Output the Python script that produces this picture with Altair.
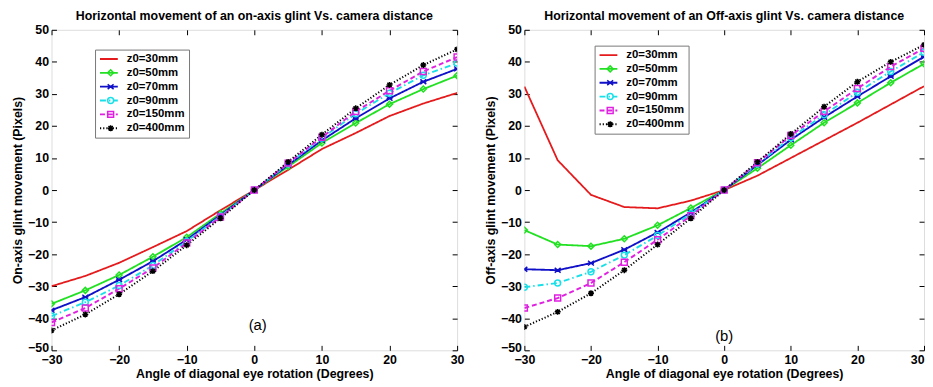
import altair as alt
import pandas as pd

angles = [-30, -25, -20, -15, -10, -5, 0, 5, 10, 15, 20, 25, 30]
series_names = ["z0=30mm", "z0=50mm", "z0=70mm", "z0=90mm", "z0=150mm", "z0=400mm"]

# Panel (a): on-axis glint
on_z30 = [-30, -26.8, -22.7, -17.8, -12.8, -6.3, 0, 6.3, 12.8, 17.8, 23.1, 27, 30.3]
on_z50 = [-35.5, -31.3, -26.5, -20.8, -14.7, -7.3, 0, 7.3, 14.7, 20.9, 26.8, 31.5, 35.7]
on_z70 = [-37.5, -33.4, -28, -22.2, -15.5, -7.8, 0, 7.8, 15.5, 22.4, 28.6, 33.8, 37.8]
on_z90 = [-39.3, -35, -29.8, -23.5, -16, -8.1, 0, 8.1, 16.2, 23.8, 30.2, 35.8, 39.6]
on_z150 = [-41.3, -36.8, -30.8, -24.3, -16.5, -8.4, 0, 8.4, 16.5, 24.5, 31, 37, 41.5]
on_z400 = [-43.8, -38.8, -32.5, -25.3, -17.2, -8.8, 0, 8.8, 17.3, 25.5, 32.8, 39, 43.9]

# Panel (b): off-axis glint
off_z30 = [32.3, 9.3, -1.5, -5.3, -5.7, -3.3, 0, 4.5, 10, 15.5, 21, 26.7, 32.4]
off_z50 = [-12.5, -17, -17.5, -15.2, -11, -5.6, 0, 6.8, 14, 21, 27.2, 33.5, 39.4]
off_z70 = [-24.7, -25, -22.8, -18.6, -13.2, -7, 0, 7.8, 15.7, 22.7, 29.2, 35.5, 41.6]
off_z90 = [-30.3, -29, -25.5, -20.3, -14.2, -7.4, 0, 8.1, 16.3, 23.5, 30.5, 37, 43]
off_z150 = [-36.8, -33.7, -29, -22.5, -15.5, -8, 0, 8.5, 17, 24.5, 31.7, 38.5, 44.2]
off_z400 = [-42.7, -38, -32.2, -25, -17, -8.8, 0, 8.8, 17.5, 26, 33.8, 40, 45.3]

titles = [
    "Horizontal movement of an on-axis glint Vs. camera distance",
    "Horizontal movement of an Off-axis glint Vs. camera distance",
]
y_titles = ["On-axis glint movement (Pixels)", "Off-axis glint movement (Pixels)"]
x_title = "Angle of diagonal eye rotation (Degrees)"
panel_labels = ["(a)", "(b)"]
x_ticks = [-30, -20, -10, 0, 10, 20, 30]
y_ticks = [-50, -40, -30, -20, -10, 0, 10, 20, 30, 40, 50]

colors = ["#e41a1c", "#22e022", "#1010c8", "#19e0e8", "#e020e0", "#000000"]
dashes = [[1, 0], [1, 0], [1, 0], [6, 3, 1.5, 3], [5, 3], [1.2, 2]]
line_widths = [1.8, 2.0, 1.6, 1.6, 1.6, 1.0]
marker_widths = [1.5, 1.5, 1.5, 1.5, 1.5, 2.6]
ASTER = "M0,-1L0,1M-1,0L1,0M-0.72,-0.72L0.72,0.72M-0.72,0.72L0.72,-0.72"
XMARK = "M-1,-0.8L1,0.8M-1,0.8L1,-0.8M-1,0L1,0"
shapes = ["M0,0L0,0", "diamond", XMARK, "circle", "square", ASTER]

FONT = "Liberation Sans"


def frame(series_lists):
    rows = []
    for name, vals in zip(series_names, series_lists):
        for a, v in zip(angles, vals):
            rows.append({"angle": a, "value": v, "series": name, "series2": name})
    return pd.DataFrame(rows)


def legend_a(leg_x, leg_y):
    return alt.Legend(
        title=None, orient="none", legendX=leg_x, legendY=leg_y,
        symbolType="stroke", symbolSize=324, symbolStrokeWidth=1.6,
        labelFont=FONT, labelFontSize=11.5, labelFontWeight="bold",
        labelColor="black", clipHeight=11, rowPadding=2,
        padding=4, labelOffset=8, strokeColor="#777777",
        fillColor="white", direction="vertical")


def legend_b(leg_x, leg_y):
    return alt.Legend(
        title=None, orient="none", legendX=leg_x, legendY=leg_y,
        symbolSize=36, symbolStrokeWidth=1.5, symbolOffset=6,
        labelFont=FONT, labelFontSize=11.5, labelExpr="''",
        clipHeight=11, rowPadding=2, padding=4, labelOffset=8,
        direction="vertical")


def panel(df, title, y_title, label, label_pos, leg_x, leg_y, width, flush_last):
    xs = alt.Scale(domain=[-30, 30], nice=False, zero=False)
    ys = alt.Scale(domain=[-50, 50], nice=False, zero=False)
    base = alt.Chart(df)
    ax_common = dict(
        tickSize=5, offset=-5, domain=False, tickColor="black", tickWidth=1,
        labelFont=FONT, labelFontSize=12.5, labelFontWeight="bold",
        labelColor="black", titleFont=FONT, titleFontSize=12.5,
        titleFontWeight="bold", titleColor="black", grid=False,
    )
    x_extra = {}
    if flush_last:
        x_extra["labelAlign"] = alt.condition("datum.value == 30", alt.value("right"), alt.value("center"))
    lines = base.mark_line(clip=True).encode(
        x=alt.X("angle:Q", scale=xs, axis=alt.Axis(
            values=x_ticks, title=x_title, orient="bottom", labelPadding=3,
            titlePadding=2, labelFlush=False, labelOverlap=False, **x_extra, **ax_common)),
        y=alt.Y("value:Q", scale=ys, axis=alt.Axis(
            values=y_ticks, title=y_title, orient="left", labelPadding=3,
            titlePadding=3, labelOverlap=False,
            labelOffset=alt.condition("datum.value == -50", alt.value(-3), alt.value(0)),
            **ax_common)),
        color=alt.Color("series:N", scale=alt.Scale(domain=series_names, range=colors),
                        legend=legend_a(leg_x, leg_y)),
        strokeDash=alt.StrokeDash("series:N", scale=alt.Scale(domain=series_names, range=dashes),
                                  legend=legend_a(leg_x, leg_y)),
        strokeWidth=alt.StrokeWidth("series:N", scale=alt.Scale(domain=series_names, range=line_widths),
                                    legend=None),
        order=alt.Order("angle:Q"),
    )
    points = base.mark_point(filled=False, clip=True, opacity=1).encode(
        x=alt.X("angle:Q", scale=xs, axis=alt.Axis(
            values=x_ticks, title=None, labels=False, orient="top", **ax_common)),
        y=alt.Y("value:Q", scale=ys, axis=alt.Axis(
            values=y_ticks, title=None, labels=False, orient="right", **ax_common)),
        color=alt.Color("series2:N", scale=alt.Scale(domain=series_names, range=colors),
                        legend=legend_b(leg_x, leg_y)),
        shape=alt.Shape("series2:N", scale=alt.Scale(domain=series_names, range=shapes),
                        legend=legend_b(leg_x, leg_y)),
        strokeWidth=alt.StrokeWidth("series2:N", scale=alt.Scale(domain=series_names, range=marker_widths),
                                    legend=None),
        size=alt.value(36),
    )
    text = alt.Chart(pd.DataFrame({"t": [label]})).mark_text(
        font=FONT, fontSize=15, color="black").encode(
        x=alt.XDatum(label_pos[0], type="quantitative", scale=xs, axis=None),
        y=alt.YDatum(label_pos[1], type="quantitative", scale=ys, axis=None),
        text="t:N")
    return alt.layer(lines, points, text).resolve_scale(
        color="independent", strokeDash="independent", shape="independent",
        strokeWidth="independent").resolve_axis(x="independent", y="independent").properties(
        width=width, height=324,
        title=alt.TitleParams(title, font=FONT, fontSize=12.5, fontWeight="bold",
                              color="black", offset=1, anchor="middle"))


left = panel(frame([on_z30, on_z50, on_z70, on_z90, on_z150, on_z400]),
             titles[0], y_titles[0], panel_labels[0], (0.5, -42), 44, 20, 410, False)
right = panel(frame([off_z30, off_z50, off_z70, off_z90, off_z150, off_z400]),
              titles[1], y_titles[1], panel_labels[1], (0, -45.5), 71, 16, 404, True)

chart = alt.hconcat(left, right, spacing=19).properties(
    padding={"left": 3, "top": 0, "right": 0, "bottom": 0}
).configure_view(stroke="black", strokeWidth=1.6).configure(background="white")

chart.save("out.html", embed_options={"renderer": "svg", "actions": False})
